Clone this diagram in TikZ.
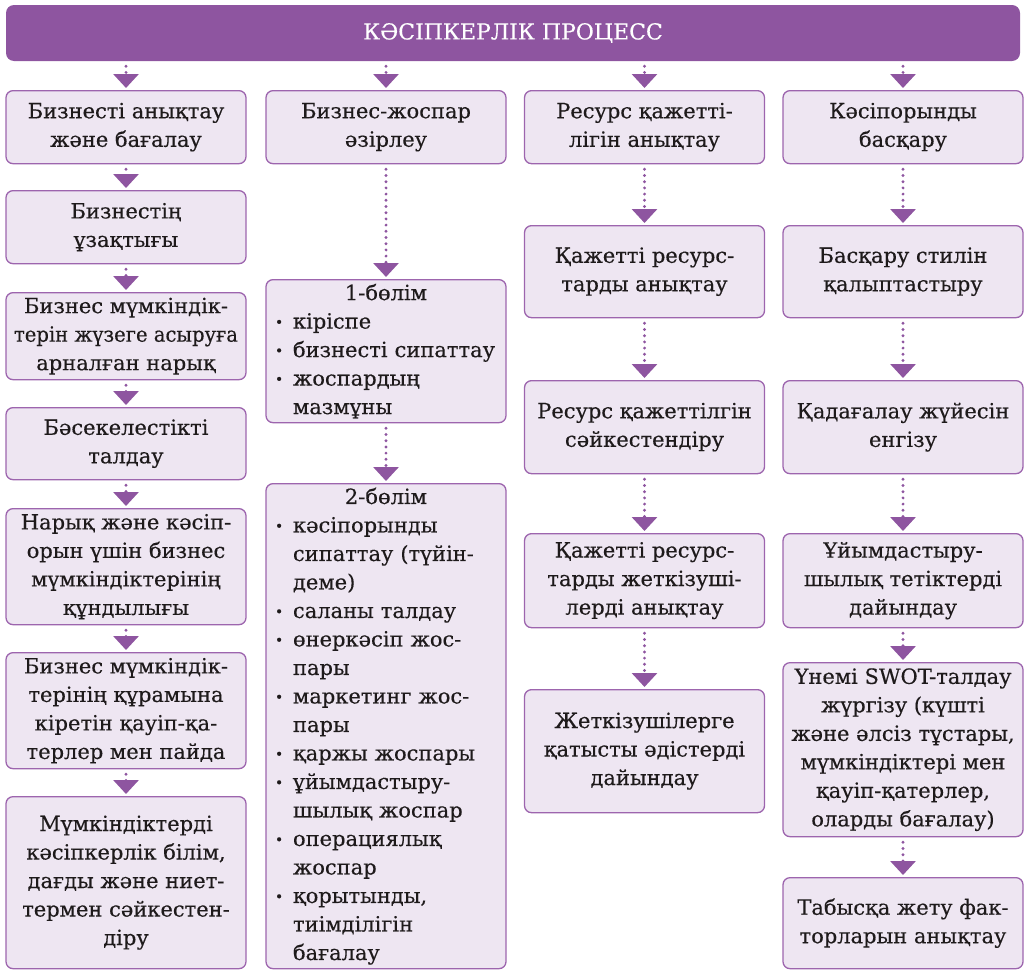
\documentclass[tikz,border=0pt]{standalone}
\usepackage{fontspec}
\usepackage{graphicx}
\setmainfont{DejaVu Serif}[FakeBold=0.35]
\usetikzlibrary{arrows.meta}
\definecolor{pur}{HTML}{8E55A0}
\definecolor{boxfill}{HTML}{EEE6F2}
\definecolor{boxline}{HTML}{9D65AE}
\definecolor{txt}{HTML}{1E1A1B}
\newcommand\bul{\makebox[20pt][l]{\hspace{2pt}\raisebox{1.5pt}{\fontsize{14}{14}\selectfont •}}}
\newcommand\ind{\hspace*{20pt}}
\newsavebox\linebx
\newcommand\fl[1]{\sbox\linebx{#1}\ifdim\wd\linebx>224pt\resizebox{224pt}{\height}{\usebox\linebx}\else\usebox\linebx\fi}
\begin{document}
\begin{tikzpicture}[x=1pt,y=-1pt,
  box/.style={draw=boxline, line width=1.3pt, fill=boxfill, rounded corners=7pt,
    text=txt, align=center, minimum width=240pt, inner xsep=7pt, inner ysep=0pt,
    anchor=north, font=\fontsize{21}{28.5}\selectfont},
  listbox/.style={box, align=left, text width=226pt},
  conn/.style={pur, line width=3.2pt, line cap=round, dash pattern=on 0pt off 6.2pt,
    shorten <=5pt, shorten >=2pt, -{Triangle[width=25pt,length=14pt]}},
  titlebox/.style={fill=pur, rounded corners=8pt, text=white, minimum width=1014pt,
    minimum height=56pt, inner sep=0pt, font=\fontsize{22}{26}\selectfont}
]
\useasboundingbox (0,0) rectangle (1025,969);
\node[titlebox] (title) at (513,33) {КӘСІПКЕРЛІК ПРОЦЕСС};

% column 1
\node[box, minimum height=73pt] (c1a) at (126,90) {Бизнесті анықтау\\және бағалау};
\node[box, minimum height=73pt] (c1b) at (126,190) {Бизнестің\\ұзақтығы};
\node[box, minimum height=87pt] (c1c) at (126,292) {\fl{Бизнес мүмкіндік-}\\\fl{терін жүзеге асыруға}\\арналған нарық};
\node[box, minimum height=72pt] (c1d) at (126,407) {Бәсекелестікті\\талдау};
\node[box, minimum height=116pt] (c1e) at (126,508) {Нарық және кәсіп-\\орын үшін бизнес\\\fl{мүмкіндіктерінің}\\құндылығы};
\node[box, minimum height=116pt] (c1f) at (126,652) {\fl{Бизнес мүмкіндік-}\\\fl{терінің құрамына}\\\fl{кіретін қауіп-қа-}\\\fl{терлер мен пайда}};
\node[box, minimum height=172pt] (c1g) at (126,796) {Мүмкіндіктерді\\\fl{кәсіпкерлік білім,}\\\fl{дағды және ниет-}\\\fl{термен сәйкестен-}\\діру};

% column 2
\node[box, minimum height=73pt] (c2a) at (386,90) {Бизнес-жоспар\\әзірлеу};
\node[listbox, minimum height=143pt] (c2b) at (386,279) {\makebox[226pt]{1-бөлім}\\\bul кіріспе\\\bul \fl{бизнесті сипаттау}\\\bul жоспардың\\\ind мазмұны};
\node[listbox, minimum height=485pt] (c2c) at (386,483) {\makebox[226pt]{2-бөлім}\\\bul кәсіпорынды\\\ind сипаттау (түйін-\\\ind деме)\\\bul саланы талдау\\\bul өнеркәсіп жос-\\\ind пары\\\bul маркетинг жос-\\\ind пары\\\bul қаржы жоспары\\\bul ұйымдастыру-\\\ind шылық жоспар\\\bul операциялық\\\ind жоспар\\\bul қорытынды,\\\ind тиімділігін\\\ind бағалау};

% column 3
\node[box, minimum height=73pt] (c3a) at (644.5,90) {Ресурс қажетті-\\лігін анықтау};
\node[box, minimum height=92pt] (c3b) at (644.5,225) {Қажетті ресурс-\\тарды анықтау};
\node[box, minimum height=93pt] (c3c) at (644.5,380) {\fl{Ресурс қажеттілгін}\\сәйкестендіру};
\node[box, minimum height=94pt] (c3d) at (644.5,533) {Қажетті ресурс-\\\fl{тарды жеткізуші-}\\лерді анықтау};
\node[box, minimum height=123pt] (c3e) at (644.5,689) {Жеткізушілерге\\\fl{қатысты әдістерді}\\дайындау};

% column 4
\node[box, minimum height=73pt] (c4a) at (903,90) {Кәсіпорынды\\басқару};
\node[box, minimum height=92pt] (c4b) at (903,225) {Басқару стилін\\қалыптастыру};
\node[box, minimum height=93pt] (c4c) at (903,380) {\fl{Қадағалау жүйесін}\\енгізу};
\node[box, minimum height=94pt] (c4d) at (903,533) {Ұйымдастыру-\\\fl{шылық тетіктерді}\\дайындау};
\node[box, minimum height=174pt] (c4e) at (903,662) {\fl{Үнемі SWOT-талдау}\\жүргізу (күшті\\\fl{және әлсіз тұстары,}\\\fl{мүмкіндіктері мен}\\\fl{қауіп-қатерлер,}\\\fl{оларды бағалау)}};
\node[box, minimum height=91pt] (c4f) at (903,877) {\fl{Табысқа жету фак-}\\\fl{торларын анықтау}};

% connectors from title
\foreach \n in {c1a,c2a,c3a,c4a}
  \draw[conn] (title.south -| \n.north) -- (\n.north);
% column connectors
\foreach \a/\b in {c1a/c1b,c1b/c1c,c1c/c1d,c1d/c1e,c1e/c1f,c1f/c1g,
                   c2a/c2b,c2b/c2c,
                   c3a/c3b,c3b/c3c,c3c/c3d,c3d/c3e,
                   c4a/c4b,c4b/c4c,c4c/c4d,c4d/c4e,c4e/c4f}
  \draw[conn] (\a.south) -- (\b.north);
\end{tikzpicture}
\end{document}
